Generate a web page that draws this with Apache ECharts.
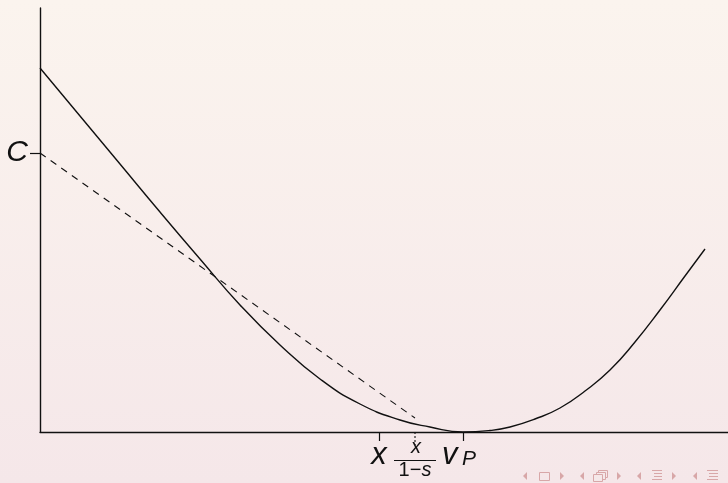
<!DOCTYPE html>
<html>
<head>
<meta charset="utf-8">
<script src="https://cdn.jsdelivr.net/npm/echarts@6/dist/echarts.min.js"></script>
<style>
  html, body { margin: 0; padding: 0; background: #F8EEEB; }
  #chart { width: 728px; height: 483px; }
</style>
</head>
<body>
<div id="chart"></div>
<script>
// Cost curve (solid), chord from C (dashed), and the marked prices on the v axis.
const curveX = [0, 40, 80, 120, 160, 200, 240, 280, 320, 360, 390, 423, 450, 470, 495, 520, 545, 570, 595, 620, 645, 665];
const curveY = [364, 316, 268, 220, 173, 127, 87, 53, 28, 12, 5, 0, 1.5, 5, 13, 24, 41, 62, 90, 122, 156, 183];
const chordX = [0, 375];
const chordY = [279, 14];
const yTickValues = [279];
const yTickLabels = ['C'];
const xTickValues = [339, 375, 423];
const xTickLabels = ['x', 'x/(1−s)', 'vP'];

const FONT = '"Liberation Sans", Arial, sans-serif';
const INK = '#111111';

const chart = echarts.init(document.getElementById('chart'), null, { renderer: 'canvas' });

const curveData = curveX.map((x, i) => [x, curveY[i]]);
const chordData = chordX.map((x, i) => [x, chordY[i]]);

chart.setOption({
  backgroundColor: 'transparent',
  animation: false,
  grid: { left: 40, right: 0, top: 8, bottom: 51, containLabel: false },
  xAxis: {
    type: 'value', min: 0, max: 688,
    splitLine: { show: false },
    axisLine: { show: true, onZero: false, lineStyle: { color: INK, width: 1.4 } },
    axisTick: { show: true, length: 9, lineStyle: { color: INK, width: 1.2 },
                customValues: [xTickValues[0], xTickValues[2]] },
    axisLabel: { show: false }
  },
  yAxis: {
    type: 'value', min: 0, max: 424,
    splitLine: { show: false },
    axisLine: { show: true, onZero: false, lineStyle: { color: INK, width: 1.4 } },
    axisTick: { show: true, length: 10, lineStyle: { color: INK, width: 1.2 },
                customValues: yTickValues },
    axisLabel: {
      show: true, customValues: yTickValues, margin: 12,
      formatter: (v) => yTickLabels[yTickValues.indexOf(v)] || '',
      color: INK, fontFamily: FONT, fontStyle: 'italic', fontSize: 30
    }
  },
  series: [
    {
      type: 'line', data: curveData, smooth: 0.5,
      symbol: 'none', lineStyle: { color: INK, width: 1.4 }, z: 3
    },
    {
      type: 'line', data: chordData, symbol: 'none',
      lineStyle: { color: INK, width: 1.1, type: [7, 6] }, z: 2
    },
    {
      // dotted tick under x/(1-s)
      type: 'line', data: [[xTickValues[1], 0], [xTickValues[1], -13]], symbol: 'none', clip: false,
      lineStyle: { color: INK, width: 1.1, type: [2, 2] }, z: 2
    }
  ]
});

function px(v) { return chart.convertToPixel({ xAxisIndex: 0 }, v); }

const gfx = [];

// page background
gfx.push({
  type: 'rect', z: -100, silent: true,
  shape: { x: 0, y: 0, width: 728, height: 483 },
  style: {
    fill: new echarts.graphic.LinearGradient(0, 0, 0, 1, [
      { offset: 0, color: '#FBF4EE' },
      { offset: 1, color: '#F5E7E9' }
    ])
  }
});

// x-axis labels
const x0 = px(xTickValues[0]);
gfx.push({ type: 'text', x: x0, y: 455, z: 10,
  style: { text: xTickLabels[0], font: 'italic 31px ' + FONT, fill: INK, align: 'center', verticalAlign: 'middle' } });

const x1 = px(xTickValues[1]);
const frac = xTickLabels[1].match(/^(.*)\/\((.*)\)$/);
gfx.push({ type: 'text', x: x1 + 1, y: 447, z: 10,
  style: { text: frac[1], font: 'italic 20px ' + FONT, fill: INK, align: 'center', verticalAlign: 'middle' } });
gfx.push({ type: 'line', z: 10, shape: { x1: x1 - 21, y1: 460.5, x2: x1 + 21, y2: 460.5 },
  style: { stroke: INK, lineWidth: 1.2 } });
gfx.push({ type: 'text', x: x1, y: 470, z: 10,
  style: {
    text: '{r|' + frac[2].slice(0, -1) + '}{i|' + frac[2].slice(-1) + '}',
    align: 'center', verticalAlign: 'middle', fill: INK,
    rich: {
      r: { font: '20px ' + FONT, fill: INK },
      i: { font: 'italic 20px ' + FONT, fill: INK }
    }
  } });

const x2 = px(xTickValues[2]);
gfx.push({ type: 'text', x: x2 - 21, y: 455, z: 10,
  style: { text: xTickLabels[2][0], font: 'italic 31px ' + FONT, fill: INK, align: 'left', verticalAlign: 'middle' } });
gfx.push({ type: 'text', x: x2 - 1, y: 459, z: 10,
  style: { text: xTickLabels[2].slice(1), font: 'italic 21px ' + FONT, fill: INK, align: 'left', verticalAlign: 'middle' } });

// navigation symbols, bottom right
const NAV = '#D8A7A8';
const cy = 476;
function triL(x) { return { type: 'polygon', z: 10, shape: { points: [[x + 4, cy - 4], [x + 4, cy + 4], [x, cy]] }, style: { fill: NAV } }; }
function triR(x) { return { type: 'polygon', z: 10, shape: { points: [[x, cy - 4], [x, cy + 4], [x + 4, cy]] }, style: { fill: NAV } }; }
gfx.push(triL(523));
gfx.push({ type: 'rect', z: 10, shape: { x: 539.5, y: 472.5, width: 10, height: 8 }, style: { fill: 'none', stroke: NAV, lineWidth: 1 } });
gfx.push(triR(560));
gfx.push(triL(580));
gfx.push({ type: 'rect', z: 10, shape: { x: 598.5, y: 470.5, width: 9, height: 7 }, style: { fill: 'none', stroke: NAV, lineWidth: 1 } });
gfx.push({ type: 'rect', z: 10, shape: { x: 596.5, y: 472.5, width: 9, height: 7 }, style: { fill: '#F5E8E9', stroke: NAV, lineWidth: 1 } });
gfx.push({ type: 'rect', z: 10, shape: { x: 593.5, y: 474.5, width: 9, height: 7 }, style: { fill: '#F5E8E9', stroke: NAV, lineWidth: 1 } });
gfx.push(triR(617));
gfx.push(triL(637));
[470.5, 473.5, 476.5, 479.5].forEach((y, i) => {
  gfx.push({ type: 'line', z: 10, shape: { x1: 652 + (i % 3 ? 2 : 0), y1: y, x2: 662, y2: y }, style: { stroke: NAV, lineWidth: 1 } });
});
gfx.push(triR(672));
gfx.push(triL(693));
[470.5, 473.5, 476.5, 479.5].forEach((y, i) => {
  gfx.push({ type: 'line', z: 10, shape: { x1: 707 + (i % 3 ? 2 : 0), y1: y, x2: 718, y2: y }, style: { stroke: NAV, lineWidth: 1 } });
});

chart.setOption({ graphic: { elements: gfx } });
</script>
</body>
</html>
